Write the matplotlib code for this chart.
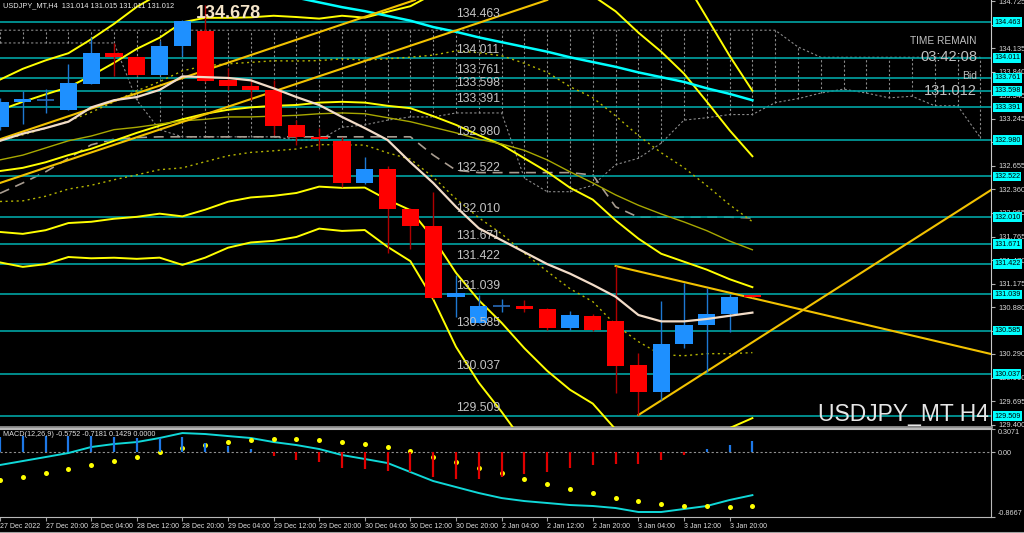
import numpy as np
import matplotlib.pyplot as plt

plt.rcParams['font.family'] = ['Liberation Sans', 'DejaVu Sans']

# USDJPY_MT H4 candles, 27 Dec 12:00 .. 4 Jan 00:00
opens = [133.143, 133.457, 133.489, 133.357, 133.684, 134.073, 134.023, 133.797, 134.161, 134.350,
         133.734, 133.659, 133.608, 133.168, 133.017, 132.967, 132.439, 132.615, 132.112, 131.899,
         131.006, 130.679, 130.893, 130.893, 130.855, 130.617, 130.767, 130.705, 130.151, 129.812,
         130.415, 130.654, 130.793, 131.014]
highs = [133.508, 133.596, 133.621, 133.935, 134.274, 134.199, 134.036, 134.224, 134.488, 134.678,
         133.885, 133.759, 133.734, 133.231, 133.131, 133.017, 132.766, 132.653, 132.125, 132.326,
         131.283, 131.031, 130.981, 130.968, 130.868, 130.830, 130.793, 131.396, 130.302, 130.956,
         131.182, 131.119, 131.044, 131.015]
lows = [133.105, 133.181, 133.319, 133.357, 133.684, 133.784, 133.784, 133.797, 134.036, 133.709,
        133.608, 133.483, 133.043, 132.917, 132.854, 132.389, 132.427, 131.559, 131.610, 130.981,
        130.755, 130.679, 130.818, 130.818, 130.591, 130.591, 130.579, 129.800, 129.523, 129.712,
        130.365, 130.064, 130.566, 131.011]
closes = [133.457, 133.495, 133.489, 133.696, 134.073, 134.023, 133.797, 134.161, 134.475, 133.721,
          133.659, 133.608, 133.156, 133.017, 132.992, 132.439, 132.615, 132.112, 131.899, 130.994,
          131.057, 130.893, 130.893, 130.855, 130.617, 130.780, 130.591, 130.139, 129.812, 130.415,
          130.654, 130.793, 131.012, 131.012]

# short moving average (light line)
ma_fast = [132.97, 133.06, 133.13, 133.21, 133.39, 133.48, 133.52, 133.61, 133.78, 133.77,
           133.76, 133.73, 133.63, 133.52, 133.42, 133.27, 133.13, 132.98, 132.70, 132.44,
           132.14, 131.87, 131.72, 131.57, 131.42, 131.30, 131.16, 131.01, 130.78, 130.70,
           130.70, 130.73, 130.77, 130.81]
# slower moving average (olive)
ma_slow = [132.73, 132.79, 132.88, 132.97, 133.03, 133.11, 133.14, 133.18, 133.22, 133.24,
           133.27, 133.27, 133.28, 133.29, 133.31, 133.32, 133.31, 133.26, 133.21, 133.14,
           133.07, 132.99, 132.93, 132.85, 132.73, 132.58, 132.44, 132.29, 132.16, 132.05,
           131.95, 131.84, 131.71, 131.60]
# long moving average (cyan), visible from bar 12
ma_long = [np.nan] * 12 + [134.82, 134.77, 134.71, 134.65, 134.60, 134.54, 134.48, 134.40, 134.34, 134.27,
                           134.21, 134.15, 134.09, 134.02, 133.96, 133.90, 133.83, 133.77, 133.71, 133.63,
                           133.56, 133.48]
# bollinger middle and deviation
bb_mid = [132.59, 132.63, 132.70, 132.79, 132.87, 132.97, 133.07, 133.16, 133.24, 133.31,
          133.36, 133.39, 133.41, 133.42, 133.45, 133.46, 133.45, 133.41, 133.38, 133.28,
          133.17, 133.04, 132.92, 132.75, 132.58, 132.38, 132.23, 131.97, 131.74, 131.55,
          131.45, 131.35, 131.23, 131.13]
bb_dev = [0.383, 0.415, 0.427, 0.427, 0.459, 0.490, 0.528, 0.553, 0.610, 0.603,
          0.578, 0.566, 0.566, 0.553, 0.528, 0.541, 0.534, 0.591, 0.641, 0.767,
          0.930, 1.037, 1.119, 1.194, 1.251, 1.270, 1.282, 1.314, 1.295, 1.270,
          1.182, 1.056, 0.936, 0.823]

# ichimoku cloud (shifted ahead, 44 bars)
kumo_top = [134.36] * 35 + [134.15] + [134.02] * 8
kumo_bot = [134.20, 134.20, 134.20, 134.20, 134.20, 134.20, 133.48, 133.11, 133.02, 133.02,
            133.02, 133.02, 133.02, 132.98, 132.98, 133.14, 133.17, 133.23, 133.27, 133.27,
            133.32, 133.32, 133.32, 132.50, 132.33, 132.33, 132.41, 132.67, 132.75, 132.94,
            133.23, 133.26, 133.30, 133.30, 133.45, 133.50, 133.57, 133.62, 133.57, 133.51,
            133.53, 133.41, 133.41, 133.01]
kijun = [132.31, 132.44, 132.58, 132.75, 132.92, 132.99, 133.01, 133.02, 133.02, 133.02,
         133.02, 133.02, 133.02, 133.02, 133.02, 133.02, 133.02, 133.02, 133.02, 132.79,
         132.60, 132.57, 132.57, 132.57, 132.57, 132.57, 132.54, 132.14, 132.01, 132.01,
         132.01, 132.01, 132.01, 132.00]

# trend lines (bar index, price)
trend_down = ([27, 43.46], [131.396, 130.29])
trend_up = ([28, 43.46], [129.523, 132.35])
trend_ch1 = ([0, 18.2], [132.99, 134.74])
trend_ch2 = ([0, 24.0], [132.44, 134.74])

levels = [134.463, 134.011, 133.761, 133.598, 133.391, 132.980, 132.522,
          132.010, 131.671, 131.422, 131.039, 130.585, 130.037, 129.509]
price_ticks = [129.400, 129.695, 129.990, 130.290, 130.585, 130.880, 131.175, 131.470, 131.765, 132.065,
               132.360, 132.655, 132.950, 133.245, 133.545, 133.840, 134.135, 134.430, 134.725]

# MACD panel
macd_hist = [0.200, 0.213, 0.213, 0.213, 0.213, 0.200, 0.187, 0.187, 0.200, 0.120,
             0.080, 0.040, -0.053, -0.107, -0.133, -0.213, -0.227, -0.253, -0.267, -0.334,
             -0.360, -0.360, -0.334, -0.293, -0.267, -0.213, -0.173, -0.160, -0.160, -0.107,
             -0.040, 0.040, 0.093, 0.143]
macd_main = [-0.173, -0.120, -0.067, -0.013, 0.067, 0.107, 0.133, 0.187, 0.253, 0.240,
             0.213, 0.187, 0.133, 0.093, 0.040, -0.040, -0.093, -0.147, -0.267, -0.387,
             -0.467, -0.547, -0.614, -0.654, -0.680, -0.707, -0.720, -0.747, -0.800, -0.800,
             -0.760, -0.720, -0.640, -0.575]
macd_signal = [-0.374, -0.334, -0.280, -0.227, -0.173, -0.120, -0.067, 0.000, 0.053, 0.093,
               0.133, 0.160, 0.173, 0.173, 0.160, 0.133, 0.107, 0.067, 0.013, -0.067,
               -0.133, -0.213, -0.280, -0.360, -0.427, -0.494, -0.547, -0.614, -0.654, -0.694,
               -0.720, -0.720, -0.734, -0.718]

time_labels = ['27 Dec 2022', '27 Dec 20:00', '28 Dec 04:00', '28 Dec 12:00', '28 Dec 20:00',
               '29 Dec 04:00', '29 Dec 12:00', '29 Dec 20:00', '30 Dec 04:00', '30 Dec 12:00',
               '30 Dec 20:00', '2 Jan 04:00', '2 Jan 12:00', '2 Jan 20:00', '3 Jan 04:00',
               '3 Jan 12:00', '3 Jan 20:00']

W, H = 1024, 533
fig = plt.figure(figsize=(W / 100, H / 100), dpi=100, facecolor='black')
ax = fig.add_axes([0, (H - 427) / H, 991 / W, 427 / H], facecolor='black')
ax2 = fig.add_axes([0, (H - 517) / H, 991 / W, 88 / H], facecolor='black')

xmax = 991 / 22.8
ax.set_xlim(0, xmax)
ax.set_ylim(129.372, 134.740)
ax2.set_xlim(0, xmax)
ax2.set_ylim(-0.8667, 0.3071)

n = len(opens)
x = np.arange(n)
o, h, l, c = map(np.array, (opens, highs, lows, closes))

# ichimoku cloud
kx = np.arange(len(kumo_top))
dots = dict(color='#8a8a8a', lw=0.8, ls=(0, (2, 2)))
ax.plot(kx, kumo_top, zorder=1, **dots)
ax.plot(kx, kumo_bot, zorder=1, **dots)
ax.vlines(kx, kumo_bot, kumo_top, zorder=1, **dots)
ax.plot(x, kijun, color='#a89c90', lw=1.2, ls=(0, (6, 4)), zorder=2)

# horizontal levels
for p in levels:
    ax.axhline(p, color='#00a4a4', lw=1.2, zorder=2)
    ax.text(20.0, p + 0.025, f'{p:.3f}', color='#c4c4c4', fontsize=8.8, va='bottom', ha='left', zorder=6)
    ax.text(1.003, p, f'{p:.3f}', transform=ax.get_yaxis_transform(), color='black', fontsize=5.2,
            va='center', ha='left', clip_on=False, zorder=10,
            bbox=dict(boxstyle='square,pad=0.18', fc='#00ffff', ec='none'))

# bollinger bands
mid, dev = np.array(bb_mid), np.array(bb_dev)
for k in (-3, -2, 2, 3):
    ax.plot(x, mid + k * dev, color='#ffff00', lw=1.4, zorder=3)
ax.plot(x, mid, color='#ffff00', lw=1.4, zorder=3)
for k in (-1, 1):
    ax.plot(x, mid + k * dev, color='#b4b400', lw=1.0, ls=(0, (1.5, 2.5)), zorder=3)
ax.plot(x, ma_slow, color='#a8a800', lw=1.0, zorder=3)
ax.plot(x, ma_long, color='#00ffff', lw=1.8, zorder=3)

for tx, ty in (trend_down, trend_up, trend_ch1, trend_ch2):
    ax.plot(tx, ty, color='#f2c200', lw=1.5, zorder=3)

# candles
doji = np.abs(c - o) < 0.001
bull = (c > o) | doji
wick_col = np.where(bull, '#1e78d2', '#b00000')
body_col = np.where(bull, '#1e90ff', '#ff0000')
ax.vlines(x, l, h, colors=wick_col, lw=1.0, zorder=4)
body = ~doji
ax.bar(x[body], np.maximum(np.abs(c - o), 0.014)[body], bottom=np.minimum(o, c)[body],
       width=0.76, color=body_col[body], zorder=5)
ax.hlines(o[doji], x[doji] - 0.38, x[doji] + 0.38, colors='#2a6ab8', lw=1.2, zorder=5)

ax.plot(x, ma_fast, color='#f2dcc8', lw=1.6, zorder=6)

# right price scale; labels sitting right under a level box are hidden there anyway
ax.yaxis.tick_right()
ax.set_yticks(price_ticks)
tick_txt = []
for t in price_ticks:
    covered = min(abs(t - p) for p in levels) < 0.035
    tick_txt.append('' if covered else f'{t:.3f}')
ax.set_yticklabels(tick_txt)
ax.tick_params(axis='y', colors='#b0b0b0', labelcolor='#d8d8d8', labelsize=5.4, length=3, pad=2)
ax.set_xticks([])
for s in ('top', 'left'):
    ax.spines[s].set_visible(False)
ax.spines['right'].set_color('#c8c8c8')
ax.spines['bottom'].set_color('#909090')
ax.spines['bottom'].set_linewidth(2)

# MACD
hcol = np.where(np.array(macd_hist) >= 0, '#1e78e6', '#e00000')
ax2.axhline(0, color='#909090', lw=0.8, ls=(0, (2, 2)), zorder=1)
ax2.plot(x, macd_main, color='#10d8d8', lw=1.4, zorder=2)
ax2.scatter(x, macd_signal, s=13, color='#ffff00', zorder=3, linewidths=0)
ax2.vlines(x, 0, macd_hist, colors=hcol, lw=1.6, zorder=4)
ax2.yaxis.tick_right()
ax2.set_yticks([0.3071, 0.0, -0.8667])
ax2.set_yticklabels(['0.3071', '0.00', '-0.8667'])
ax2.tick_params(axis='y', colors='#b0b0b0', labelcolor='#d8d8d8', labelsize=5.2, length=3, pad=2)
yl = ax2.get_yticklabels()
yl[0].set_va('top')
yl[2].set_va('bottom')
ax2.set_xticks(np.arange(0, 33, 2))
ax2.set_xticklabels(time_labels)
ax2.tick_params(axis='x', colors='#a0a0a0', labelcolor='#e0e0e0', labelsize=5.0, length=3, pad=1.5)
for t in ax2.get_xticklabels():
    t.set_ha('left')
ax2.spines['left'].set_visible(False)
for s in ('top', 'right', 'bottom'):
    ax2.spines[s].set_color('#b8b8b8')
ax2.spines['top'].set_linewidth(1.5)

# overlay texts
def ftext(px, py, s, **kw):
    fig.text(px / W, 1 - py / H, s, **kw)

ftext(3, 6, 'USDJPY_MT,H4  131.014 131.015 131.011 131.012', color='#e8e8e8', fontsize=5.3, va='center')
ftext(196, 13, '134.678', color='#f4e4c8', fontsize=13, fontweight='bold', va='center')
ftext(977, 41, 'TIME REMAIN', color='#c0c0c0', fontsize=7.3, ha='right', va='center')
ftext(977, 57, '03:42:08', color='#c0c0c0', fontsize=10.5, ha='right', va='center')
ftext(977, 76, 'Bid', color='#c0c0c0', fontsize=7.5, ha='right', va='center')
ftext(977, 91, '131.012', color='#c0c0c0', fontsize=10.5, ha='right', va='center')
ftext(989, 414, 'USDJPY_MT H4', color='#e6e6e6', fontsize=16.5, ha='right', va='center')
ftext(3, 434, 'MACD(12,26,9) -0.5752 -0.7181 0.1429 0.0000', color='#e0e0e0', fontsize=5.2, va='center')
fig.add_artist(plt.Line2D([0, 1], [0.5 / H, 0.5 / H], color='#a0a0a0', lw=1.5))

fig.savefig('out.png', dpi=100, facecolor='black')
